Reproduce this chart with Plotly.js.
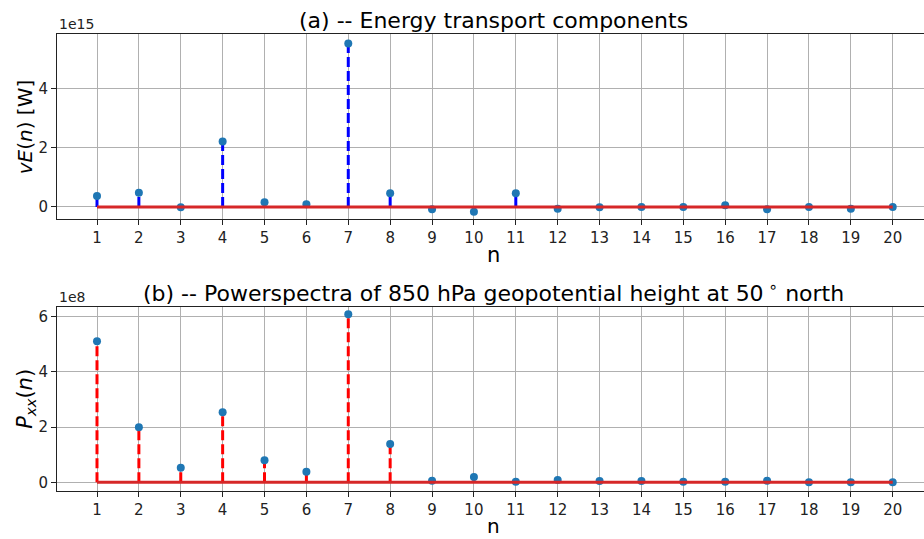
<!DOCTYPE html>
<html>
<head>
<meta charset="utf-8">
<script src="https://cdn.plot.ly/plotly-3.0.1.min.js"></script>
<style>html,body{margin:0;padding:0;background:#fff}#chart{width:924px;height:539px}</style>
</head>
<body>
<div id="chart"></div>
<script>
// wavenumbers
const n = [1,2,3,4,5,6,7,8,9,10,11,12,13,14,15,16,17,18,19,20];
// (a) energy transport vE(n), in units of 1e15 W
const energyScale = 1e15;
const energy = [0.37,0.48,-0.01,2.21,0.16,0.09,5.51,0.46,-0.08,-0.16,0.46,-0.06,-0.01,0.0,0.0,0.06,-0.08,0.0,-0.06,0.0];
// (b) power spectrum Pxx(n), in units of 1e8
const powerScale = 1e8;
const power = [5.11,1.99,0.53,2.54,0.80,0.38,6.09,1.39,0.06,0.19,0.02,0.08,0.05,0.05,0.02,0.02,0.06,0.005,0.005,0.005];
const xTicks = n;
const yTicksA = [0,2,4];
const yTicksB = [0,2,4,6];

function stems(xs, ys){
  const sx=[], sy=[];
  xs.forEach((x,i)=>{sx.push(x,x,null); sy.push(0,ys[i],null);});
  return {sx, sy};
}
const eVals = energy.map(v=>v*energyScale);
const pVals = power.map(v=>v*powerScale);
const sa = stems(n, eVals), sb = stems(n, pVals);

const FONT = 'DejaVu Sans, sans-serif';
const traces = [
  {x:sa.sx, y:sa.sy, mode:'lines', line:{color:'#0000ff', width:3, dash:'10px,4px'}, xaxis:'x', yaxis:'y', hoverinfo:'skip'},
  {x:n, y:eVals, mode:'markers', marker:{color:'#1f77b4', size:8}, xaxis:'x', yaxis:'y'},
  {x:[n[0], n[n.length-1]], y:[0,0], mode:'lines', line:{color:'#d62728', width:3}, xaxis:'x', yaxis:'y'},
  {x:sb.sx, y:sb.sy, mode:'lines', line:{color:'#ff0000', width:3, dash:'10px,4px'}, xaxis:'x2', yaxis:'y2', hoverinfo:'skip'},
  {x:n, y:pVals, mode:'markers', marker:{color:'#1f77b4', size:8}, xaxis:'x2', yaxis:'y2'},
  {x:[n[0], n[n.length-1]], y:[0,0], mode:'lines', line:{color:'#d62728', width:3}, xaxis:'x2', yaxis:'y2'}
];

const xcommon = {
  range:[0.045, 20.747], tickvals:xTicks, ticktext:xTicks.map(String),
  showgrid:true, gridcolor:'#b0b0b0', gridwidth:1, zeroline:false,
  showline:true, linecolor:'#222', linewidth:1, mirror:true,
  ticks:'outside', ticklen:5, tickcolor:'#222', tickfont:{family:FONT, size:15, color:'#222'}
};
const ycommon = {
  showgrid:true, gridcolor:'#b0b0b0', gridwidth:1, zeroline:false,
  showline:true, linecolor:'#222', linewidth:1, mirror:false,
  ticks:'outside', ticklen:5, tickcolor:'#222', tickfont:{family:FONT, size:15, color:'#222'}
};

const layout = {
  width:924, height:539,
  margin:{l:57, r:0, t:34, b:48},
  paper_bgcolor:'#fff', plot_bgcolor:'#fff',
  showlegend:false,
  font:{family:FONT, color:'#222'},
  xaxis:Object.assign({}, xcommon, {anchor:'y', domain:[0,1]}),
  yaxis:Object.assign({}, ycommon, {anchor:'x', domain:[0.5952,1], range:[-0.405*energyScale, 5.83*energyScale],
        tickvals:yTicksA.map(v=>v*energyScale), ticktext:yTicksA.map(String)}),
  xaxis2:Object.assign({}, xcommon, {anchor:'y2', domain:[0,1]}),
  yaxis2:Object.assign({}, ycommon, {anchor:'x2', domain:[0,0.4033], range:[-0.315*powerScale, 6.36*powerScale],
        tickvals:yTicksB.map(v=>v*powerScale), ticktext:yTicksB.map(String)}),
  annotations:[
    {text:'(a) -- Energy transport components', xref:'paper', yref:'paper', x:0.504, y:1, yanchor:'bottom', xanchor:'center', yshift:-1, showarrow:false, font:{family:FONT, size:22, color:'#000'}},
    {text:'(b) -- Powerspectra of 850 hPa geopotential height at 50<sup> ∘</sup> north', xref:'paper', yref:'paper', x:0.504, y:0.4033, yanchor:'bottom', xanchor:'center', yshift:-1, showarrow:false, font:{family:FONT, size:22, color:'#000'}},
    {text:'1e15', xref:'paper', yref:'paper', x:0, y:1, xanchor:'left', yanchor:'bottom', showarrow:false, font:{family:FONT, size:14, color:'#222'}},
    {text:'1e8', xref:'paper', yref:'paper', x:0, y:0.4033, xanchor:'left', yanchor:'bottom', showarrow:false, font:{family:FONT, size:14, color:'#222'}},
    {text:'<i>vE</i>(<i>n</i>) [W]', xref:'paper', yref:'paper', x:-0.036, y:0.7976, xanchor:'center', yanchor:'middle', textangle:-90, showarrow:false, font:{family:FONT, size:20, color:'#000'}},
    {text:'<i>P</i><sub><i>xx</i></sub>(<i>n</i>)', xref:'paper', yref:'paper', x:-0.036, y:0.2016, xanchor:'center', yanchor:'middle', textangle:-90, showarrow:false, font:{family:FONT, size:21, color:'#000'}},
    {text:'n', xref:'paper', yref:'paper', x:0.504, y:0.5952, xanchor:'center', yanchor:'middle', yshift:-36, borderpad:0, showarrow:false, font:{family:FONT, size:21, color:'#000'}},
    {text:'n', xref:'paper', yref:'paper', x:0.504, y:0, xanchor:'center', yanchor:'middle', yshift:-35, borderpad:0, showarrow:false, font:{family:FONT, size:20, color:'#000'}}
  ]
};

Plotly.newPlot('chart', traces, layout, {staticPlot:true, displayModeBar:false});
</script>
</body>
</html>
